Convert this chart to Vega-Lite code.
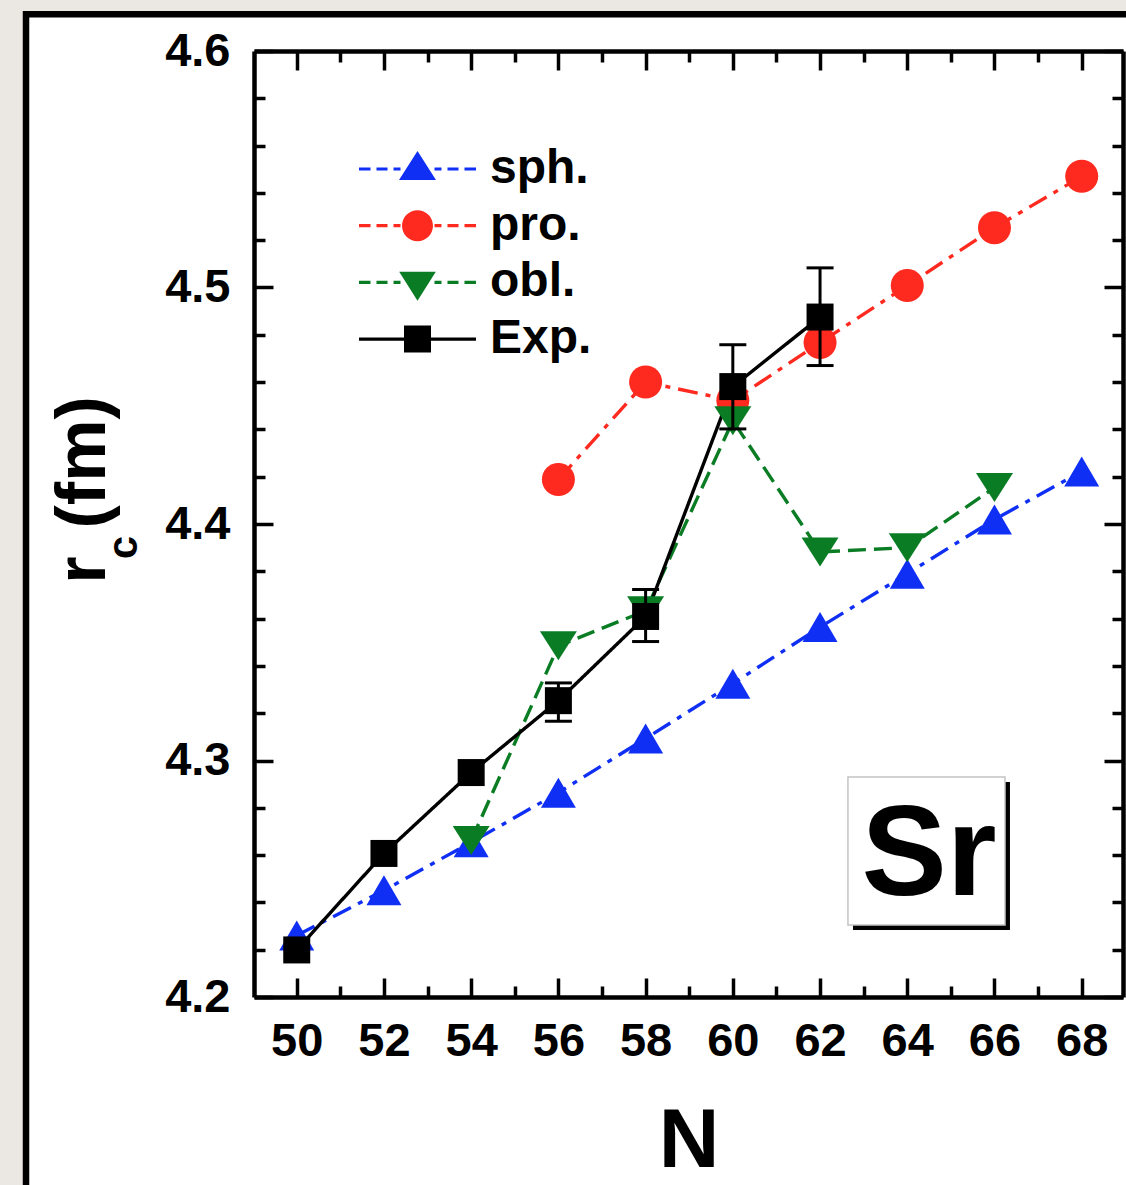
{
  "$schema": "https://vega.github.io/schema/vega-lite/v6.json",
  "width": 869,
  "height": 946,
  "autosize": {"type": "none"},
  "padding": {"left": 254, "top": 51, "right": 3, "bottom": 188},
  "background": "#ebe8e3",
  "config": {"view": {"stroke": null}, "font": "Liberation Sans"},
  "datasets": {
    "pts": [
      {"series": "sph.", "N": 50, "r": 4.2260},
      {"series": "sph.", "N": 52, "r": 4.2451},
      {"series": "sph.", "N": 54, "r": 4.2654},
      {"series": "sph.", "N": 56, "r": 4.2864},
      {"series": "sph.", "N": 58, "r": 4.3093},
      {"series": "sph.", "N": 60, "r": 4.3325},
      {"series": "sph.", "N": 62, "r": 4.3564},
      {"series": "sph.", "N": 64, "r": 4.3790},
      {"series": "sph.", "N": 66, "r": 4.4019},
      {"series": "sph.", "N": 68, "r": 4.4222},
      {"series": "pro.", "N": 56, "r": 4.4188},
      {"series": "pro.", "N": 58, "r": 4.4600},
      {"series": "pro.", "N": 60, "r": 4.4522},
      {"series": "pro.", "N": 62, "r": 4.4767},
      {"series": "pro.", "N": 64, "r": 4.5008},
      {"series": "pro.", "N": 66, "r": 4.5253},
      {"series": "pro.", "N": 68, "r": 4.5470},
      {"series": "obl.", "N": 54, "r": 4.2662},
      {"series": "obl.", "N": 56, "r": 4.3485},
      {"series": "obl.", "N": 58, "r": 4.3633},
      {"series": "obl.", "N": 60, "r": 4.4437},
      {"series": "obl.", "N": 62, "r": 4.3882},
      {"series": "obl.", "N": 64, "r": 4.3900},
      {"series": "obl.", "N": 66, "r": 4.4154},
      {"series": "Exp.", "N": 50, "r": 4.2199},
      {"series": "Exp.", "N": 52, "r": 4.2607},
      {"series": "Exp.", "N": 54, "r": 4.2949},
      {"series": "Exp.", "N": 56, "r": 4.3253, "lo": 4.3166, "hi": 4.3328},
      {"series": "Exp.", "N": 58, "r": 4.3609, "lo": 4.3503, "hi": 4.3723},
      {"series": "Exp.", "N": 60, "r": 4.4581, "lo": 4.4402, "hi": 4.4758},
      {"series": "Exp.", "N": 62, "r": 4.4875, "lo": 4.4670, "hi": 4.5083}
    ]
  },
  "resolve": {"axis": {"x": "independent", "y": "independent"}},
  "layer": [
    {
      "data": {"values": [{}]},
      "mark": {"type": "rect", "fill": "white", "stroke": "black", "strokeWidth": 6.5},
      "encoding": {
        "x": {"datum": 43.792, "type": "quantitative", "scale": {"domain": [49.02, 68.947], "nice": false, "zero": false}, "axis": null},
        "x2": {"datum": 80},
        "y": {"datum": 4.61556, "type": "quantitative", "scale": {"domain": [4.2, 4.6], "nice": false, "zero": false}, "axis": null},
        "y2": {"datum": 4.0}
      }
    },
    {
      "data": {"name": "pts"},
      "mark": {"type": "line", "strokeWidth": 3.4},
      "encoding": {
        "x": {"field": "N", "type": "quantitative", "scale": {"domain": [49.02, 68.947], "nice": false, "zero": false},
          "axis": {"orient": "bottom", "values": [50, 52, 54, 56, 58, 60, 62, 64, 66, 68], "format": "d", "grid": false,
            "domain": true, "domainColor": "black", "domainWidth": 4.5, "ticks": true, "tickSize": -19, "tickWidth": 3.5, "tickColor": "black",
            "labelFont": "Liberation Sans", "labelFontSize": 47, "labelFontWeight": "bold", "labelColor": "black", "labelPadding": 40,
            "labelFlush": false, "labelOverlap": false, "labelBound": false,
            "title": "N", "titleFont": "Liberation Sans", "titleFontSize": 84, "titleFontWeight": "bold", "titleColor": "black",
            "titleBaseline": "alphabetic", "titleAlign": "center", "titleX": 434.5, "titleY": 169, "zindex": 1}},
        "y": {"field": "r", "type": "quantitative", "scale": {"domain": [4.2, 4.6], "nice": false, "zero": false},
          "axis": {"orient": "left", "values": [4.2, 4.3, 4.4, 4.5, 4.6], "format": ".1f", "grid": false,
            "domain": true, "domainColor": "black", "domainWidth": 4.5, "ticks": true, "tickSize": -19, "tickWidth": 3.5, "tickColor": "black",
            "labelFont": "Liberation Sans", "labelFontSize": 47, "labelFontWeight": "bold", "labelColor": "black", "labelPadding": 43,
            "labelFlush": false, "labelOverlap": false, "labelBound": false,
            "title": "r\u2009\u2009(fm)", "titleFont": "Liberation Sans", "titleFontSize": 70, "titleFontWeight": "bold", "titleColor": "black",
            "titleAngle": 270, "titleAlign": "center", "titleBaseline": "alphabetic", "titleX": -150, "titleY": 438.5, "zindex": 1}},
        "stroke": {"field": "series", "type": "nominal",
          "scale": {"domain": ["Exp.", "obl.", "pro.", "sph."], "range": ["#000000", "#0a7d24", "#ff2a1f", "#0f2ff5"]}, "legend": null},
        "strokeDash": {"field": "series", "type": "nominal",
          "scale": {"domain": ["Exp.", "obl.", "pro.", "sph."], "range": [[1, 0], [18, 8], [20, 8, 5, 8], [20, 8, 5, 8]]}, "legend": null}
      }
    },
    {
      "data": {"name": "pts"},
      "mark": {"type": "point", "filled": true, "opacity": 1, "size": 1296, "strokeWidth": 0},
      "encoding": {
        "x": {"field": "N", "type": "quantitative", "scale": {"domain": [49.02, 68.947], "nice": false, "zero": false}, "axis": null},
        "y": {"field": "r", "type": "quantitative", "scale": {"domain": [4.2, 4.6], "nice": false, "zero": false}, "axis": null},
        "color": {"field": "series", "type": "nominal",
          "scale": {"domain": ["sph.", "pro.", "obl.", "Exp."], "range": ["#0f2ff5", "#ff2a1f", "#0a7d24", "#000000"]},
          "legend": {
            "orient": "none", "legendX": 139.5, "legendY": 94, "title": null, "padding": 0, "offset": 0,
            "symbolType": {"expr": "datum.value === 'sph.' ? 'M-2.543,-0.07H-2.043V0.07H-2.543Z M-1.783,-0.07H-1.304V0.07H-1.783Z M-1.043,-0.07H-0.739V0.07H-1.043Z M0.739,-0.07H1.043V0.07H0.739Z M1.304,-0.07H1.783V0.07H1.304Z M2.043,-0.07H2.543V0.07H2.043Z M0,-0.783L0.804,0.478L-0.804,0.478Z' : datum.value === 'pro.' ? 'M-2.543,-0.07H-2.043V0.07H-2.543Z M-1.783,-0.07H-1.304V0.07H-1.783Z M-1.043,-0.07H-0.739V0.07H-1.043Z M0.739,-0.07H1.043V0.07H0.739Z M1.304,-0.07H1.783V0.07H1.304Z M2.043,-0.07H2.543V0.07H2.043Z M0.674,0A0.674,0.674,0,1,1,-0.674,0A0.674,0.674,0,1,1,0.674,0Z' : datum.value === 'obl.' ? 'M-2.543,-0.07H-2.043V0.07H-2.543Z M-1.783,-0.07H-1.304V0.07H-1.783Z M-1.043,-0.07H-0.739V0.07H-1.043Z M0.739,-0.07H1.043V0.07H0.739Z M1.304,-0.07H1.783V0.07H1.304Z M2.043,-0.07H2.543V0.07H2.043Z M0,0.8L0.796,-0.461L-0.796,-0.461Z' : 'M-2.543,-0.07H2.543V0.07H-2.543Z M-0.587,-0.587H0.587V0.587H-0.587Z'"},
            "symbolSize": 2116, "symbolStrokeWidth": 0, "symbolOpacity": 1,
            "symbolFillColor": {"expr": "datum.value === 'sph.' ? '#0f2ff5' : datum.value === 'pro.' ? '#ff2a1f' : datum.value === 'obl.' ? '#0a7d24' : '#000000'"},
            "labelFont": "Liberation Sans", "labelFontSize": 48, "labelFontWeight": "bold", "labelColor": "black",
            "labelOffset": 48.5, "labelLimit": 400, "rowPadding": 8.7, "zindex": 1
          }},
        "shape": {"field": "series", "type": "nominal",
          "scale": {"domain": ["Exp.", "obl.", "pro.", "sph."], "range": ["M-0.75,-0.75H0.75V0.75H-0.75Z", "M0,0.806L1.028,-0.806L-1.028,-0.806Z", "M0.917,0A0.917,0.917,0,1,1,-0.917,0A0.917,0.917,0,1,1,0.917,0Z", "M0,-0.833L0.972,0.833L-0.972,0.833Z"]},
          "legend": null}
      }
    },
    {
      "data": {"name": "pts"},
      "transform": [{"filter": "isValid(datum.lo)"}],
      "mark": {"type": "rule", "color": "black", "strokeWidth": 3},
      "encoding": {
        "x": {"field": "N", "type": "quantitative", "scale": {"domain": [49.02, 68.947], "nice": false, "zero": false},
          "axis": {"orient": "bottom", "values": [51, 53, 55, 57, 59, 61, 63, 65, 67], "grid": false, "domain": false, "labels": false,
            "ticks": true, "tickSize": -11, "tickWidth": 3.5, "tickColor": "black", "title": null, "zindex": 1}},
        "y": {"field": "lo", "type": "quantitative", "scale": {"domain": [4.2, 4.6], "nice": false, "zero": false},
          "axis": {"orient": "left", "values": [4.22, 4.24, 4.26, 4.28, 4.32, 4.34, 4.36, 4.38, 4.42, 4.44, 4.46, 4.48, 4.52, 4.54, 4.56, 4.58],
            "grid": false, "domain": false, "labels": false, "ticks": true, "tickSize": -11, "tickWidth": 3.5, "tickColor": "black", "title": null, "zindex": 1}},
        "y2": {"field": "hi"}
      }
    },
    {
      "data": {"name": "pts"},
      "transform": [{"filter": "isValid(datum.lo)"}],
      "mark": {"type": "tick", "orient": "horizontal", "color": "black", "size": 27, "thickness": 3, "opacity": 1},
      "encoding": {
        "x": {"field": "N", "type": "quantitative", "scale": {"domain": [49.02, 68.947], "nice": false, "zero": false},
          "axis": {"orient": "top", "values": [50, 52, 54, 56, 58, 60, 62, 64, 66, 68], "grid": false, "domain": true, "domainColor": "black", "domainWidth": 4.5,
            "labels": false, "ticks": true, "tickSize": -19, "tickWidth": 3.5, "tickColor": "black", "title": null, "zindex": 1}},
        "y": {"field": "lo", "type": "quantitative", "scale": {"domain": [4.2, 4.6], "nice": false, "zero": false},
          "axis": {"orient": "right", "values": [4.2, 4.3, 4.4, 4.5, 4.6], "grid": false, "domain": true, "domainColor": "black", "domainWidth": 4.5,
            "labels": false, "ticks": true, "tickSize": -19, "tickWidth": 3.5, "tickColor": "black", "title": null, "zindex": 1}}
      }
    },
    {
      "data": {"name": "pts"},
      "transform": [{"filter": "isValid(datum.hi)"}],
      "mark": {"type": "tick", "orient": "horizontal", "color": "black", "size": 27, "thickness": 3, "opacity": 1},
      "encoding": {
        "x": {"field": "N", "type": "quantitative", "scale": {"domain": [49.02, 68.947], "nice": false, "zero": false},
          "axis": {"orient": "top", "values": [51, 53, 55, 57, 59, 61, 63, 65, 67], "grid": false, "domain": false,
            "labels": false, "ticks": true, "tickSize": -11, "tickWidth": 3.5, "tickColor": "black", "title": null, "zindex": 1}},
        "y": {"field": "hi", "type": "quantitative", "scale": {"domain": [4.2, 4.6], "nice": false, "zero": false},
          "axis": {"orient": "right", "values": [4.22, 4.24, 4.26, 4.28, 4.32, 4.34, 4.36, 4.38, 4.42, 4.44, 4.46, 4.48, 4.52, 4.54, 4.56, 4.58],
            "grid": false, "domain": false, "labels": false, "ticks": true, "tickSize": -11, "tickWidth": 3.5, "tickColor": "black", "title": null, "zindex": 1}}
      }
    },
    {
      "data": {"values": [{}]},
      "mark": {"type": "rect", "fill": "black"},
      "encoding": {
        "x": {"datum": 62.755, "type": "quantitative", "scale": {"domain": [49.02, 68.947], "nice": false, "zero": false}, "axis": null},
        "x2": {"datum": 66.355},
        "y": {"datum": 4.29091, "type": "quantitative", "scale": {"domain": [4.2, 4.6], "nice": false, "zero": false}, "axis": null},
        "y2": {"datum": 4.22833}
      }
    },
    {
      "data": {"values": [{}]},
      "mark": {"type": "rect", "fill": "white", "stroke": "#c4c4c4", "strokeWidth": 1.5},
      "encoding": {
        "x": {"datum": 62.640, "type": "quantitative", "scale": {"domain": [49.02, 68.947], "nice": false, "zero": false}, "axis": null},
        "x2": {"datum": 66.241},
        "y": {"datum": 4.29302, "type": "quantitative", "scale": {"domain": [4.2, 4.6], "nice": false, "zero": false}, "axis": null},
        "y2": {"datum": 4.23044}
      }
    },
    {
      "data": {"values": [{"label": "Sr"}]},
      "mark": {"type": "text", "font": "Liberation Sans", "fontWeight": "bold", "fontSize": 128, "align": "center", "baseline": "alphabetic", "color": "black"},
      "encoding": {
        "x": {"datum": 64.498, "type": "quantitative", "scale": {"domain": [49.02, 68.947], "nice": false, "zero": false}, "axis": null},
        "y": {"datum": 4.24313, "type": "quantitative", "scale": {"domain": [4.2, 4.6], "nice": false, "zero": false}, "axis": null},
        "text": {"field": "label"}
      }
    },
    {
      "data": {"values": [{"label": "c"}]},
      "mark": {"type": "text", "font": "Liberation Sans", "fontWeight": "bold", "fontSize": 42, "align": "center", "baseline": "alphabetic", "angle": 270, "color": "black"},
      "encoding": {
        "x": {"datum": 46.337, "type": "quantitative", "scale": {"domain": [49.02, 68.947], "nice": false, "zero": false}, "axis": null},
        "y": {"datum": 4.39006, "type": "quantitative", "scale": {"domain": [4.2, 4.6], "nice": false, "zero": false}, "axis": null},
        "text": {"field": "label"}
      }
    }
  ]
}
